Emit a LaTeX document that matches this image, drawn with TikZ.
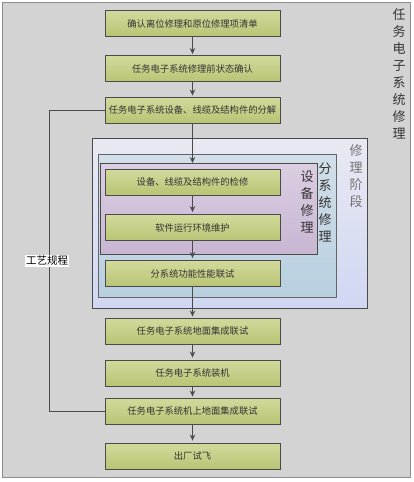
\documentclass[tikz,border=0pt]{standalone}
\usepackage{fontspec}
\newfontfamily\cjk{Noto Sans CJK SC}
\usetikzlibrary{arrows.meta}
\definecolor{bgray}{HTML}{D3D3D3}
\definecolor{frame}{HTML}{8C8C8C}
\definecolor{gtop}{HTML}{D2DA9C}
\definecolor{gbot}{HTML}{B9C474}
\definecolor{edge}{HTML}{4A4A4A}
\definecolor{txt}{HTML}{333333}
\definecolor{stop}{HTML}{E8E9F2}
\definecolor{sbot}{HTML}{D0D7F2}
\definecolor{utop}{HTML}{D2DFE8}
\definecolor{ubot}{HTML}{B8CFE0}
\definecolor{etop}{HTML}{DACEE2}
\definecolor{ebot}{HTML}{C8B6D3}
\begin{document}
\begin{tikzpicture}[x=1pt,y=-1pt,
  stepbox/.style={draw=edge, line width=0.9pt, top color=gtop, bottom color=gbot,
    minimum width=175pt, minimum height=26pt, inner sep=0pt,
    font=\cjk\fontsize{9.3}{11}\selectfont, text=txt},
  arr/.style={draw=edge, line width=0.9pt, -{Stealth[length=6pt,width=5.5pt]}},
  link/.style={draw=edge, line width=0.9pt},
  vlabel/.style={align=center, inner sep=0pt, font=\cjk\fontsize{13}{17}\selectfont},
  container/.style={anchor=north west, inner sep=0pt, line width=0.9pt}]
\useasboundingbox (0,0) rectangle (414,482);
\node[anchor=north west, minimum width=408pt, minimum height=475pt, inner sep=0pt,
  fill=bgray, draw=frame, line width=1pt] (outer) at (2,2) {};
% containers
\node[container, draw=edge, top color=stop, bottom color=sbot,
  minimum width=275pt, minimum height=170pt] (stage) at (92,138) {};
\node[container, draw=edge!85, top color=utop, bottom color=ubot,
  minimum width=238pt, minimum height=143pt] (sub) at (98,154) {};
\node[container, draw=edge, top color=etop, bottom color=ebot,
  minimum width=217pt, minimum height=91pt] (eq) at (100,163) {};
% boxes
\node[stepbox] (b1) at (192.5,23.5) {确认离位修理和原位修理项清单};
\node[stepbox] (b2) at (192.5,68.5) {任务电子系统修理前状态确认};
\node[stepbox] (b3) at (192.5,110) {任务电子系统设备、线缆及结构件的分解};
\node[stepbox] (b4) at (192.5,182) {设备、线缆及结构件的检修};
\node[stepbox] (b5) at (192.5,227.5) {软件运行环境维护};
\node[stepbox] (b6) at (192.5,273.5) {分系统功能性能联试};
\node[stepbox] (b7) at (192.5,331) {任务电子系统地面集成联试};
\node[stepbox] (b8) at (192.5,373) {任务电子系统装机};
\node[stepbox] (b9) at (192.5,411) {任务电子系统机上地面集成联试};
\node[stepbox] (b10) at (192.5,456) {出厂试飞};
% vertical labels
\node[vlabel, text=black!80] (lmain) at (399,73.5) {任\\务\\电\\子\\系\\统\\修\\理};
\node[vlabel, text=black!55] (lstage) at (356,176.5) {修\\理\\阶\\段};
\node[vlabel, text=txt] (lsub) at (325,202.5) {分\\系\\统\\修\\理};
\node[vlabel, text=txt] (leq) at (307,201.5) {设\\备\\修\\理};
% arrows
\draw[arr, shorten >=1pt] (b1) -- (b2);
\draw[arr, shorten >=1pt] (b2) -- (b3);
\draw[arr] (b3) -- (b3 |- eq.north);
\draw[arr, shorten >=2pt] (b4) -- (b5);
\draw[arr, shorten >=2pt] (b5) -- (b6);
\draw[arr, shorten >=1pt] (b6) -- (b7);
\draw[arr, shorten >=2pt] (b7) -- (b8);
\draw[arr, shorten >=1pt] (b8) -- (b9);
\draw[arr, shorten >=2pt] (b9) -- (b10);
% process loop
\coordinate (lt) at (49,110);
\coordinate (lb) at (49,411);
\draw[link] (b3.west) -- (lt) -- (lb) -- (b9.west);
\node[fill=white, inner sep=1pt, font=\cjk\fontsize{10.5}{12}\selectfont, text=black] (proc) at (47,261) {工艺规程};
\end{tikzpicture}
\end{document}
